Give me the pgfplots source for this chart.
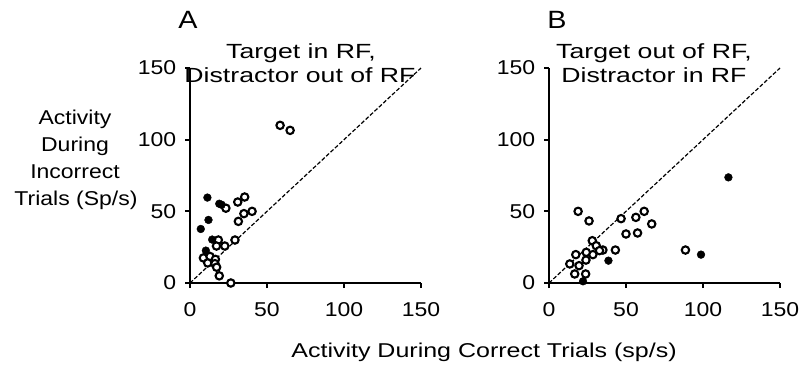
\documentclass[border=0pt]{standalone}
\usepackage{pgfplots}
\pgfplotsset{compat=1.18}
\usepackage{fontspec}
\setmainfont{Liberation Sans}[FakeStretch=1.15]
\newfontfamily\titlefont{Liberation Sans}[FakeStretch=1.3]
\newfontfamily\xlabfont{Liberation Sans}[FakeStretch=1.25]
\begin{document}
\fontsize{20}{25}\selectfont
\begin{tikzpicture}[x=1pt,y=1pt]
\useasboundingbox (0,0) rectangle (803,368);
\pgfplotsset{
  panel/.style={
    scale only axis, width=231pt, height=215pt, anchor=south west,
    xmin=0, xmax=150, ymin=0, ymax=150,
    xtick={0,50,100,150}, ytick={0,50,100,150},
    xticklabels={0,50,100,150}, yticklabels={0,50,100,150},
    axis x line*=bottom, axis y line*=left,
    axis line style={line width=1.9pt, -},
    tick align=outside, major tick length=5pt,
    tick style={line width=1.9pt, black},
    ticklabel style={font=\fontsize{20}{24}\selectfont},
    xticklabel style={yshift=-8pt},
    yticklabel style={xshift=-2pt},
    clip=false,
  },
  openm/.style={only marks, mark=*, mark size=3.7pt, mark options={line width=2.1pt, draw=black, fill=white}},
  fillm/.style={only marks, mark=*, mark size=3.9pt, mark options={draw=black, fill=black}},
  diag/.style={black, line width=1.2pt, dash pattern=on 4pt off 2pt},
}
\begin{axis}[panel, at={(190pt,85pt)}]
\addplot[diag] coordinates {(0,0) (150,150)};
\addplot[openm] coordinates {
(58.5,110) (65,106.5) (35.5,60) (31,56.5) (23.3,52.2) (40.3,50) (35,48.4)
(31.4,43) (29.2,30) (18.4,30) (22.6,25.8) (17.2,25.8) (8.7,17.5) (13,18.5)
(16.5,16.5) (11.5,14) (16.2,13.5) (17.3,11) (19,5) (26.5,0)};
\addplot[fillm] coordinates {
(11.3,59.6) (12,44) (7,37.7) (19,55.3) (20.5,54.6) (14.4,30.3) (10.3,22.6)};
\end{axis}
\begin{axis}[panel, at={(549pt,85pt)}]
\addplot[diag] coordinates {(0,0) (150,150)};
\addplot[openm] coordinates {
(18.9,50) (26,43.3) (46.8,44.9) (56.4,45.8) (61.8,50) (66.7,41.2) (50,34.2)
(57.5,34.9) (28.1,29.5) (30.7,26) (35,23) (32.8,22.6) (28.5,19.8) (24.2,21.4)
(17.4,19.8) (24,16) (13.5,13.3) (19.5,12.1) (16.7,6.3) (23.8,6.3) (43.1,23) (88.6,23)};
\addplot[fillm] coordinates {
(116.5,73.7) (98.7,19.8) (38.6,15.6) (22.1,1.2)};
\end{axis}
\node[anchor=base, font=\fontsize{25}{30}\selectfont] at (188,340) {A};
\node[anchor=base, font=\fontsize{25}{30}\selectfont] at (557,340) {B};
\node[anchor=base, font=\titlefont\fontsize{20.5}{25}\selectfont] at (301,310) {Target in RF,};
\node[anchor=base, font=\titlefont\fontsize{20.5}{25}\selectfont] at (300,286) {Distractor out of RF};
\node[anchor=base, font=\titlefont\fontsize{20.5}{25}\selectfont] at (654,310) {Target out of RF,};
\node[anchor=base, font=\titlefont\fontsize{20.5}{25}\selectfont] at (654,286) {Distractor in RF};
\node[anchor=base] at (75,244) {Activity};
\node[anchor=base] at (75,217) {During};
\node[anchor=base] at (75,190) {Incorrect};
\node[anchor=base] at (76,163) {Trials (Sp/s)};
\node[anchor=base, font=\xlabfont\fontsize{20}{25}\selectfont] at (484,10.3) {Activity During Correct Trials (sp/s)};
\end{tikzpicture}
\end{document}
